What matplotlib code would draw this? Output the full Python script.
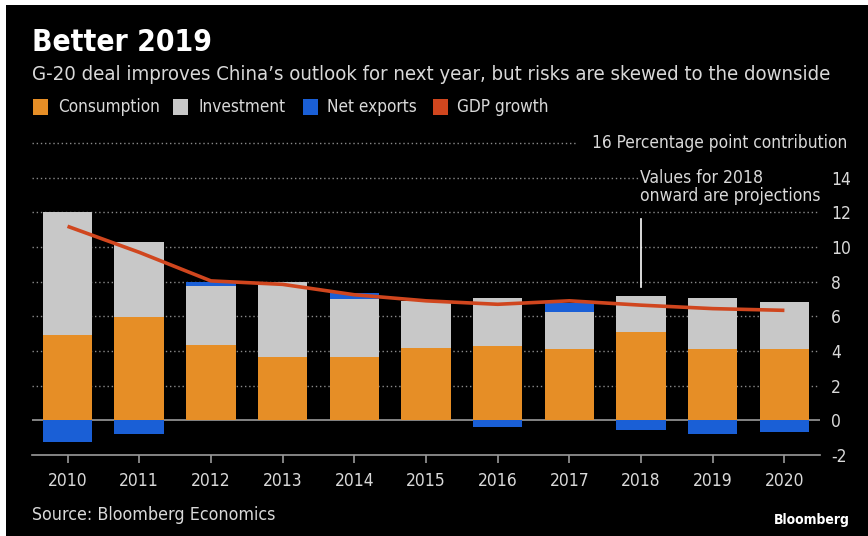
import matplotlib
matplotlib.use("Agg")
import matplotlib.pyplot as plt
from matplotlib.patches import Rectangle
import numpy as np

# data (percentage point contributions)
years = ["2010", "2011", "2012", "2013", "2014", "2015", "2016", "2017", "2018", "2019", "2020"]
consumption = [4.9, 5.95, 4.37, 3.63, 3.63, 4.17, 4.3, 4.1, 5.1, 4.1, 4.1]
investment = [7.1, 4.37, 3.36, 4.33, 3.37, 2.73, 2.77, 2.14, 2.06, 2.96, 2.75]
net_exports = [-1.25, -0.77, 0.27, 0.0, 0.33, 0.0, -0.39, 0.54, -0.58, -0.81, -0.67]
gdp_growth = [11.2, 9.7, 8.05, 7.85, 7.25, 6.9, 6.7, 6.9, 6.65, 6.45, 6.35]
yticks = [-2, 0, 2, 4, 6, 8, 10, 12, 14]

ORANGE = "#E68E26"
GREY = "#C8C8C8"
BLUE = "#1A5FD6"
RED = "#D0461E"
TXT = "#D9D9D9"
GRID = "#8A8A8A"

plt.rcParams["font.family"] = ["DejaVu Sans"]
plt.rcParams["font.stretch"] = "condensed"

fig = plt.figure(figsize=(8.68, 5.36), dpi=100, facecolor="white")
fig.patches.append(Rectangle((6 / 868, 0), 1, 1 - 5 / 536, transform=fig.transFigure,
                             facecolor="black", edgecolor="none", zorder=-10))

ax = fig.add_axes([0.0365, 0.151, 0.9085, 0.582])
ax.set_facecolor("black")
x = np.arange(len(years))
w = 0.69

cons = np.array(consumption)
inv = np.array(investment)
nx = np.array(net_exports)
pos_nx = np.where(nx > 0, nx, 0)
neg_nx = np.where(nx < 0, nx, 0)

ax.bar(x, cons, w, color=ORANGE, zorder=3)
ax.bar(x, inv, w, bottom=cons, color=GREY, zorder=3)
ax.bar(x, pos_nx, w, bottom=cons + inv, color=BLUE, zorder=3)
ax.bar(x, neg_nx, w, color=BLUE, zorder=3)
ax.plot(x, gdp_growth, color=RED, lw=2.6, zorder=4, solid_capstyle="butt")

# dotted grid
for v in yticks[2:]:
    ax.axhline(v, color=GRID, lw=1.0, ls=(0, (1, 2)), zorder=1)
ax.axhline(16, xmax=0.69, color=GRID, lw=1.0, ls=(0, (1, 2)), zorder=1, clip_on=False)
ax.axhline(0, color="#9A9A9A", lw=1.2, zorder=2)

ax.set_xlim(-0.5, 10.5)
ax.set_ylim(-2, 16)
for s in ["top", "left", "right"]:
    ax.spines[s].set_visible(False)
ax.spines["bottom"].set_color("#9A9A9A")
ax.spines["bottom"].set_linewidth(1.2)

ax.set_xticks(x)
ax.set_xticklabels(years)
ax.tick_params(axis="x", colors="#9A9A9A", length=6, width=1.2, labelcolor=TXT,
               labelsize=12.5, pad=6)
ax.yaxis.tick_right()
ax.set_yticks(yticks)
ax.set_yticklabels([str(v) for v in yticks])
ax.tick_params(axis="y", length=0, labelcolor=TXT, labelsize=12.5, pad=8)

ax.text(1.035, 16, "16 Percentage point contribution", transform=ax.get_yaxis_transform(),
        ha="right", va="center", color=TXT, fontsize=12.4)

# projection marker
ax.plot([8, 8], [7.7, 11.6], color="white", lw=1.2, zorder=5)
ax.text(7.98, 13.45, "Values for 2018\nonward are projections", ha="left", va="center",
        color=TXT, fontsize=12.6, linespacing=1.0, zorder=5,
        bbox=dict(facecolor="black", edgecolor="none", pad=0))

fig.text(32 / 868, 1 - 42 / 536, "Better 2019", color="white", fontsize=21.5,
         fontweight="bold", va="center", ha="left")
fig.text(32 / 868, 1 - 74 / 536,
         "G-20 deal improves China\u2019s outlook for next year, but risks are skewed to the downside",
         color=TXT, fontsize=14.6, va="center", ha="left")

legend_items = [("Consumption", ORANGE, 33, 58), ("Investment", GREY, 173, 198),
                ("Net exports", BLUE, 303, 327), ("GDP growth", RED, 433, 457)]
for label, col, sq, tx in legend_items:
    fig.patches.append(Rectangle((sq / 868, 1 - 115 / 536), 15 / 868, 16 / 536,
                                 transform=fig.transFigure, facecolor=col, edgecolor="none"))
    fig.text(tx / 868, 1 - 107 / 536, label, color=TXT, fontsize=12.3,
             va="center", ha="left")

fig.text(32 / 868, 1 - 515 / 536, "Source: Bloomberg Economics", color=TXT, fontsize=12.8,
         va="center", ha="left")
fig.text(850 / 868, 1 - 520 / 536, "Bloomberg", color="white", fontsize=10,
         fontweight="bold", va="center", ha="right")

fig.savefig("out.png", dpi=100, facecolor=fig.get_facecolor())
